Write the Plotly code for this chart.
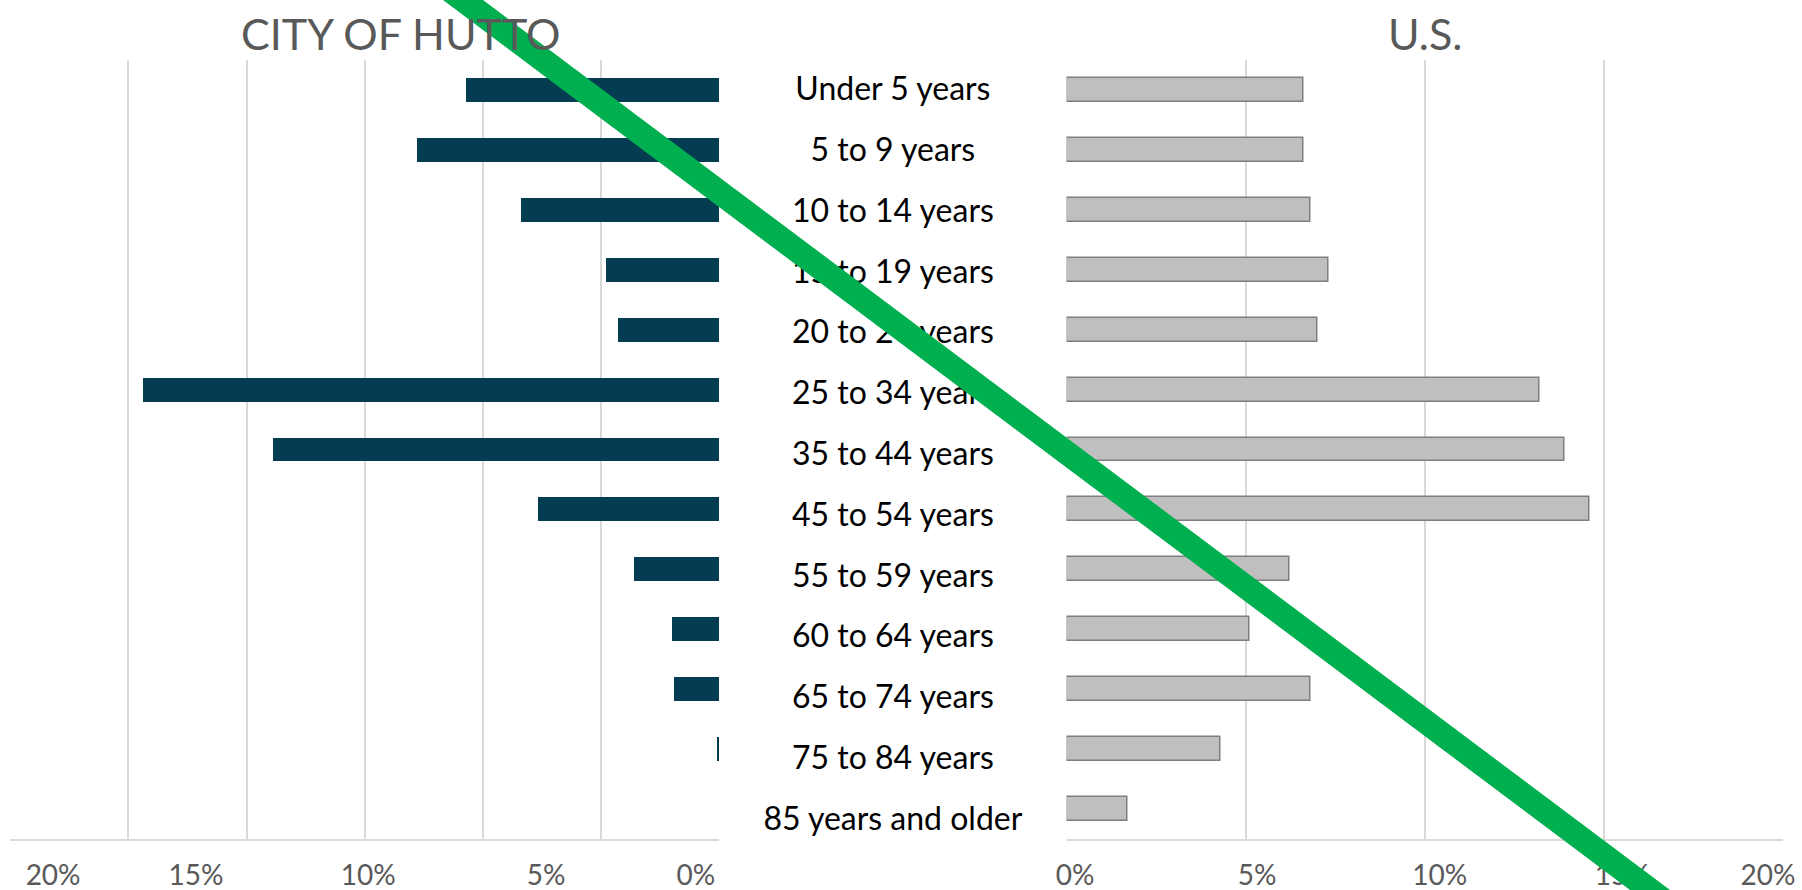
"""
Age distribution: City of Hutto vs U.S. (mirrored horizontal bars).
"""
import plotly.graph_objects as go

# Age groups, top to bottom
age_groups = [
    'Under 5 years', '5 to 9 years', '10 to 14 years', '15 to 19 years',
    '20 to 24 years', '25 to 34 years', '35 to 44 years', '45 to 54 years',
    '55 to 59 years', '60 to 64 years', '65 to 74 years', '75 to 84 years',
    '85 years and older',
]

# Share of population (%)
hutto_pct = [10.69, 12.79, 8.39, 4.79, 4.29, 24.38, 18.88, 7.68, 3.61, 2.00, 1.90, 0.07, 0.0]
us_pct = [6.62, 6.62, 6.81, 7.31, 7.01, 13.21, 13.91, 14.61, 6.22, 5.12, 6.81, 4.31, 1.71]

# Axis labels as printed on the chart
hutto_tick_text = ['20%', '15%', '10%', '5%', '0%']
hutto_tick_pos = [28.19, 22.14, 14.86, 7.33, 0.99]
us_tick_text = ['0%', '5%', '10%', '15%', '20%']
us_tick_pos = [0.24, 5.32, 10.42, 15.52, 19.59]

W, H = 1802, 890
FONT = 'Lato, "Open Sans", sans-serif'
GRID = '#D9D9D9'
GREY_TXT = '#595959'
N = len(age_groups)

fig = go.Figure()

# Hutto bars (left panel, axis reversed)
fig.add_trace(go.Bar(
    x=hutto_pct, y=age_groups, orientation='h',
    xaxis='x', yaxis='y', width=0.4,
    marker=dict(color='#043C51', line=dict(width=0)),
    showlegend=False,
))

# US bars (right panel)
fig.add_trace(go.Bar(
    x=us_pct, y=age_groups, orientation='h',
    xaxis='x2', yaxis='y', width=0.4,
    marker=dict(color='#BFBFBF', line=dict(color='#7F7F7F', width=1.5)),
    showlegend=False,
))

# Category labels in the middle column
fig.add_trace(go.Scatter(
    x=[0] * N, y=age_groups, mode='text',
    text=age_groups, textposition='middle center',
    textfont=dict(family=FONT, size=32, color='#000000'),
    xaxis='x3', yaxis='y2', cliponaxis=False, showlegend=False,
))

common_x = dict(
    showgrid=False, zeroline=False, ticks='', showline=True,
    linecolor=GRID, linewidth=1.5, automargin=False, fixedrange=True,
    tickfont=dict(family=FONT, size=28, color=GREY_TXT),
    ticklabelstandoff=11, tickmode='array', anchor='y',
    minor=dict(tick0=0, dtick=5, showgrid=True, gridcolor=GRID, gridwidth=1.5, ticks=''),
)

common_y = dict(
    type='category', categoryorder='array', categoryarray=age_groups,
    range=[N - 0.5, -0.5], showticklabels=False, showgrid=False,
    zeroline=False, showline=False, ticks='', automargin=False,
    fixedrange=True,
)

fig.update_layout(
    width=W, height=H,
    template='none',
    paper_bgcolor='white', plot_bgcolor='white',
    margin=dict(l=0, r=0, t=0, b=0),
    bargap=0,
    xaxis=dict(domain=[10.3 / W, 719.3 / W], range=[30, 0],
               tickvals=hutto_tick_pos, ticktext=hutto_tick_text, **common_x),
    xaxis2=dict(domain=[1066.5 / W, 1782.7 / W], range=[0, 20],
                tickvals=us_tick_pos, ticktext=us_tick_text, **common_x),
    xaxis3=dict(domain=[0.401, 0.590], range=[-1, 1], visible=False,
                anchor='y2', fixedrange=True),
    yaxis=dict(domain=[(H - 839) / H, (H - 60) / H], **common_y),
    yaxis2=dict(domain=[(H - 852) / H, (H - 62) / H], anchor='x3', **common_y),
    annotations=[
        dict(text='CITY OF HUTTO', x=400 / W, y=1 - 33 / H, xref='paper', yref='paper',
             showarrow=False, xanchor='center', yanchor='middle',
             font=dict(family=FONT, size=43, color=GREY_TXT)),
        dict(text='U.S.', x=1425 / W, y=1 - 33 / H, xref='paper', yref='paper',
             showarrow=False, xanchor='center', yanchor='middle',
             font=dict(family=FONT, size=43, color=GREY_TXT)),
    ],
    shapes=[
        # green strike line drawn across the chart
        dict(type='line', xref='paper', yref='paper',
             x0=423 / W, y0=1 + 30 / H, x1=1690 / W, y1=-30 / H,
             line=dict(color='#00B050', width=24), layer='above'),
    ],
)

fig.write_html('out.html', config={'displayModeBar': False},
               post_script="document.body.style.margin='0';")
